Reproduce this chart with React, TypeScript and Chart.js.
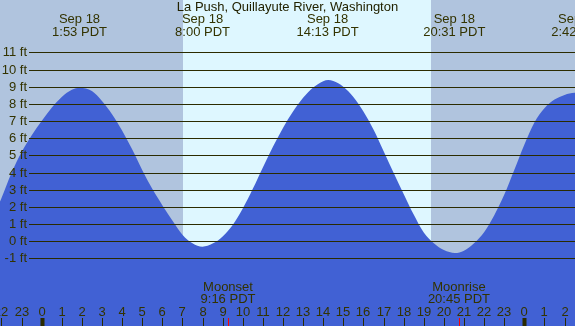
import { useEffect, useRef } from "react";
import { Chart, registerables } from "chart.js";

Chart.register(...registerables);

// ---- data ----
const TITLE = "La Push, Quillayute River, Washington";

// hours relative to midnight Sep 18 (negative = Sep 17, >24 = Sep 19)
const TIDE_HOURS = [
  -3, -2.5, -2, -1.5, -1, -0.5, 0, 0.5, 1, 1.5, 1.9, 2.5, 3, 3.5, 4, 4.5, 5, 5.5, 6, 6.5, 7, 7.5, 8,
  8.5, 9, 9.5, 10, 10.5, 11, 11.5, 12, 12.5, 13, 13.5, 14, 14.25, 14.5, 15, 15.5, 16, 16.5, 17,
  17.5, 18, 18.5, 19, 19.5, 20, 20.55, 21, 21.5, 22, 22.5, 23, 23.5, 24, 24.5, 25, 25.5, 26, 26.5,
  26.7, 27,
];
const TIDE_FEET = [
  0.3, 1.2, 2.5, 3.97, 5.18, 6.15, 7.0, 7.77, 8.4, 8.82, 8.94, 8.75, 8.17, 7.4, 6.45, 5.35, 4.15,
  3.05, 2.1, 1.2, 0.38, -0.12, -0.32, -0.14, 0.28, 0.95, 1.9, 3.05, 4.3, 5.5, 6.6, 7.55, 8.35, 8.95,
  9.32, 9.39, 9.33, 9.0, 8.4, 7.55, 6.5, 5.25, 3.98, 2.75, 1.55, 0.5, -0.12, -0.52, -0.69, -0.55,
  -0.12, 0.52, 1.5, 2.7, 4.15, 5.62, 6.92, 7.75, 8.25, 8.52, 8.64, 8.66, 8.62,
];

const FEET_TICKS = [-1, 0, 1, 2, 3, 4, 5, 6, 7, 8, 9, 10, 11];
const HOUR_TICKS = [
  -2, -1, 0, 1, 2, 3, 4, 5, 6, 7, 8, 9, 10, 11, 12, 13, 14, 15, 16, 17, 18, 19, 20, 21, 22, 23,
  24, 25, 26,
];

const SUNRISE_HOURS = [7.03];
const SUNSET_HOURS = [19.36];

const EVENT_HOURS = [1.883, 8.0, 14.217, 20.517, 26.7];
const EVENT_DATES = ["Sep 18", "Sep 18", "Sep 18", "Sep 18", "Sep 19"];
const EVENT_TIMES = ["1:53 PDT", "8:00 PDT", "14:13 PDT", "20:31 PDT", "2:42 PDT"];

const MOON_HOURS = [9.267, 20.75];
const MOON_NAMES = ["Moonset", "Moonrise"];
const MOON_TIMES = ["9:16 PDT", "20:45 PDT"];

const X_MIN = -2.07;
const X_MAX = 26.52;
const Y_MIN = -4.94;
const Y_MAX = 14.05;

// ---- styles ----
const NIGHT = "#B0C4DE";
const DAY = "#DEF7FF";
const WATER = "#4161D4";
const LINE = "#2B2B00";
const TEXT = "#333300";
const FONT = '13px "Liberation Sans", Arial, sans-serif';

const tidePlugin = {
  id: "tideDecor",
  beforeDatasetsDraw(chart: any) {
    const { ctx, width, height } = chart;
    const xs = chart.scales.x;
    ctx.save();
    ctx.fillStyle = NIGHT;
    ctx.fillRect(0, 0, width, height);
    ctx.fillStyle = DAY;
    SUNRISE_HOURS.forEach((sr, i) => {
      const a = Math.round(xs.getPixelForValue(sr));
      const b = Math.round(xs.getPixelForValue(SUNSET_HOURS[i]));
      ctx.fillRect(a, 0, b - a, height);
    });
    ctx.restore();
  },
  afterDatasetsDraw(chart: any) {
    const { ctx, width, height } = chart;
    const xs = chart.scales.x;
    const ys = chart.scales.y;
    ctx.save();
    ctx.font = FONT;

    // horizontal grid + labels
    FEET_TICKS.forEach((v) => {
      const y = Math.round(ys.getPixelForValue(v)) + 0.5;
      ctx.strokeStyle = LINE;
      ctx.lineWidth = 1;
      ctx.beginPath();
      ctx.moveTo(29, y);
      ctx.lineTo(width, y);
      ctx.stroke();
      ctx.fillStyle = TEXT;
      ctx.textAlign = "right";
      ctx.textBaseline = "middle";
      ctx.fillText(`${v} ft`, 27, y);
    });

    // title
    ctx.textAlign = "center";
    ctx.textBaseline = "middle";
    ctx.fillStyle = "#222200";
    ctx.fillText(TITLE, width / 2, 7);

    // tide events
    ctx.fillStyle = TEXT;
    EVENT_HOURS.forEach((h, i) => {
      const x = xs.getPixelForValue(h);
      ctx.fillText(EVENT_DATES[i], x, 19.5);
      ctx.fillText(EVENT_TIMES[i], x, 32);
    });

    // moon events
    MOON_HOURS.forEach((h, i) => {
      const x = xs.getPixelForValue(h);
      ctx.fillStyle = TEXT;
      ctx.fillText(MOON_NAMES[i], x, 287.5);
      ctx.fillText(MOON_TIMES[i], x, 299.5);
    });

    // hour labels + ticks
    HOUR_TICKS.forEach((h) => {
      const x = Math.round(xs.getPixelForValue(h));
      const label = String(((h % 24) + 24) % 24);
      ctx.fillStyle = TEXT;
      ctx.fillText(label, x, 312.5);
      const isMidnight = label === "0";
      ctx.fillStyle = LINE;
      if (isMidnight) ctx.fillRect(x - 1.5, 318, 4, height - 318);
      else ctx.fillRect(x, 318, 1, height - 318);
    });

    MOON_HOURS.forEach((h) => {
      const x = Math.round(xs.getPixelForValue(h));
      ctx.fillStyle = "#FF0000";
      ctx.fillRect(x, 318, 1, height - 318);
    });

    ctx.restore();
  },
};

export default function App() {
  const ref = useRef<HTMLCanvasElement | null>(null);

  useEffect(() => {
    document.body.style.margin = "0";
    const canvas = ref.current;
    if (!canvas) return;
    const chart = new Chart(canvas, {
      type: "line",
      data: {
        datasets: [
          {
            data: TIDE_HOURS.map((h, i) => ({ x: h, y: TIDE_FEET[i] })),
            fill: "start",
            backgroundColor: WATER,
            borderWidth: 0,
            borderColor: WATER,
            pointRadius: 0,
            cubicInterpolationMode: "monotone",
          },
        ],
      },
      options: {
        responsive: false,
        animation: false,
        events: [],
        layout: { padding: 0 },
        plugins: {
          legend: { display: false },
          tooltip: { enabled: false },
          title: { display: false },
        },
        scales: {
          x: { type: "linear", min: X_MIN, max: X_MAX, display: false },
          y: { type: "linear", min: Y_MIN, max: Y_MAX, display: false },
        },
      },
      plugins: [tidePlugin],
    });
    return () => chart.destroy();
  }, []);

  return (
    <div style={{ position: "fixed", left: 0, top: 0, width: 575, height: 326 }}>
      <canvas ref={ref} width={575} height={326} style={{ display: "block" }} />
    </div>
  );
}
